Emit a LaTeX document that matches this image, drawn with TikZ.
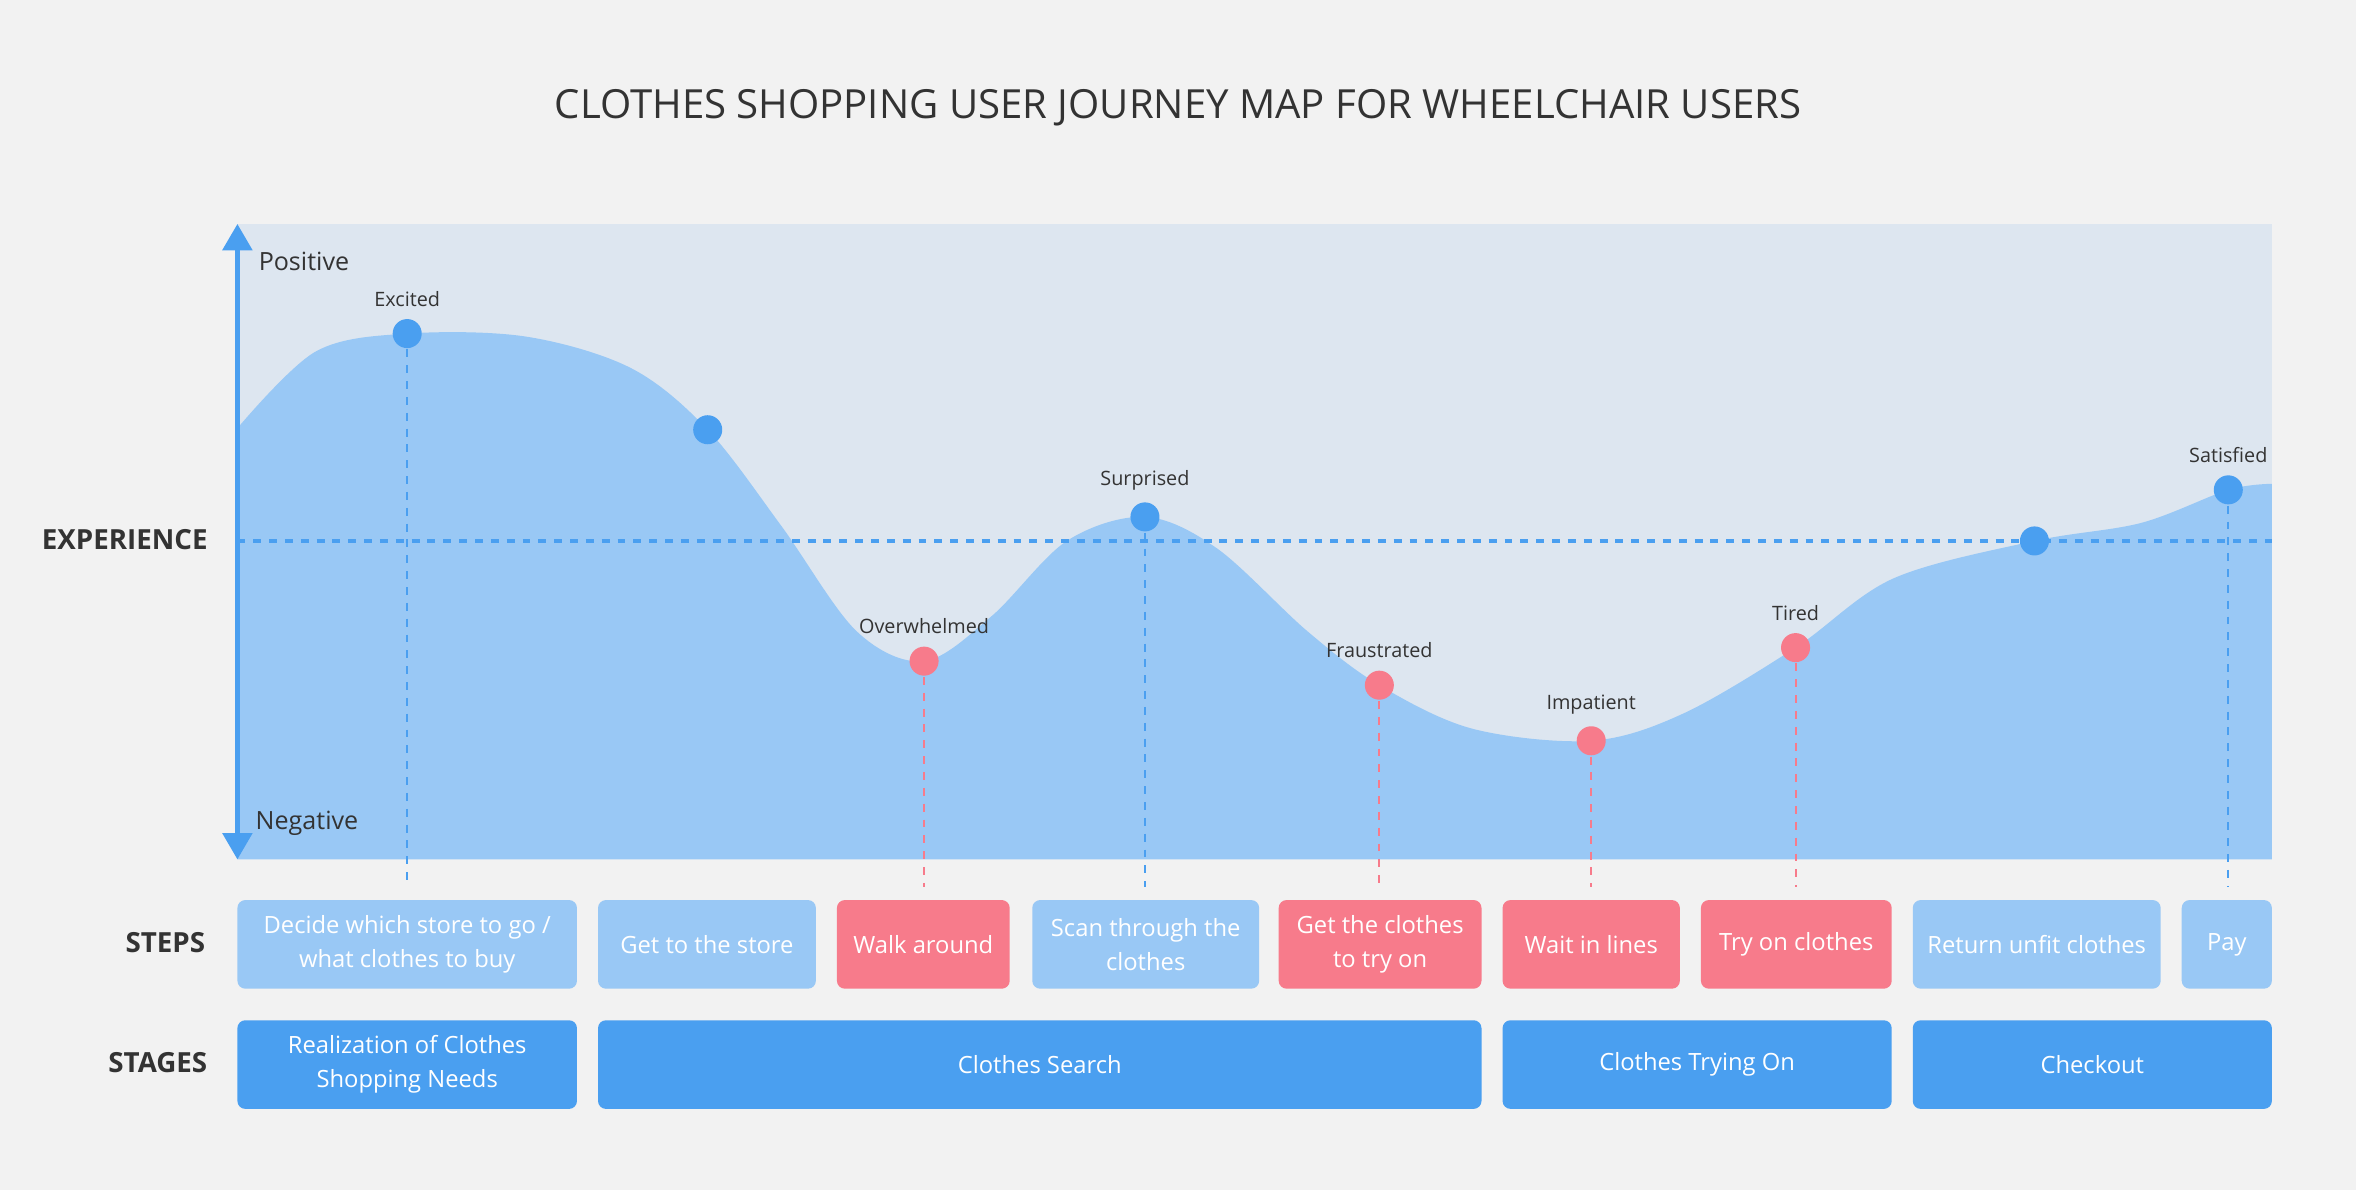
\documentclass[tikz,border=0pt]{standalone}
\usepackage{fontspec}
\setmainfont{Open Sans}
\usetikzlibrary{arrows.meta}
\definecolor{bgpage}{HTML}{F2F2F2}
\definecolor{bgchart}{HTML}{DDE6F0}
\definecolor{curvefill}{HTML}{99C8F5}
\definecolor{bluemain}{HTML}{4A9FF0}
\definecolor{pinkmain}{HTML}{F77B8B}
\definecolor{textdark}{HTML}{333333}
\tikzset{
  lightstep/.style={fill=curvefill,rounded corners=3pt,text=white,align=center,font=\fontsize{9}{13}\selectfont,inner sep=0pt},
  pinkstep/.style={lightstep,fill=pinkmain},
  stagebox/.style={lightstep,fill=bluemain},
  bluedot/.style={circle,fill=bluemain,inner sep=0pt,minimum size=11pt},
  pinkdot/.style={bluedot,fill=pinkmain},
  moodlabel/.style={font=\fontsize{7.5}{9}\selectfont,text=textdark},
  rowlabel/.style={font=\bfseries\fontsize{10.5}{12}\selectfont,text=textdark},
  dropline/.style={dashed,thick}
}
\begin{document}
\begin{tikzpicture}[x=0.02cm,y=-0.02cm]
\fill[bgpage] (0,0) rectangle (1568,792);
\useasboundingbox (0,0) rectangle (1568,792);
\node[font=\fontsize{15.2}{17}\selectfont,text=textdark] (title) at (784,72) {CLOTHES SHOPPING USER JOURNEY MAP FOR WHEELCHAIR USERS};
% chart area
\fill[bgchart] (158,149) rectangle (1512,572);
\fill[curvefill] (158,572) -- plot[smooth,tension=0.55] coordinates{
 (158,285) (210,234) (271,222) (350,224) (420,245) (471,286) (520,350)
 (570,420) (615,440) (660,410) (710,360) (762,344) (810,365) (870,420)
 (918,456) (980,485) (1059,493) (1120,475) (1195,431) (1260,385)
 (1354,360) (1425,348) (1483,326) (1512,322)} -- (1512,572) -- cycle;
\draw[bluemain,dashed,line width=1.2pt] (158,360) -- (1512,360);
\coordinate (axtop) at (158,149);
\coordinate (axbot) at (158,572);
\draw[bluemain,line width=2pt,{Triangle[length=10pt,width=11pt]}-{Triangle[length=10pt,width=11pt]}] (axbot) -- (axtop);
\node[anchor=west,font=\fontsize{9.5}{11}\selectfont,text=textdark] (pos) at (166,174) {Positive};
\node[anchor=west,font=\fontsize{9.5}{11}\selectfont,text=textdark] (neg) at (164,548) {Negative};
% mood points
\foreach \x/\y/\sty/\lbl/\drop in {271/222/bluedot/Excited/1, 471/286/bluedot//0,
  615/440/pinkdot/Overwhelmed/1, 762/344/bluedot/Surprised/1,
  918/456/pinkdot/Fraustrated/1, 1059/493/pinkdot/Impatient/1,
  1195/431/pinkdot/Tired/1, 1354/360/bluedot//0, 1483/326/bluedot/Satisfied/1}{
  \ifnum\drop=1
    \coordinate (foot\x) at (\x,590);
    \draw[dropline,color=\ifnum\y>400 pinkmain\else bluemain\fi] (\x,\y) -- (foot\x);
  \fi
  \node[\sty] (dot\x) at (\x,\y) {};
  \node[moodlabel,above=1pt] (mood\x) at (dot\x.north) {\lbl};
}
% row labels
\node[rowlabel] (explbl) at (83,359) {EXPERIENCE};
\node[rowlabel] (steplbl) at (110,627) {STEPS};
\node[rowlabel] (stagelbl) at (105,707) {STAGES};
% steps
\foreach \a/\b/\sty/\txt [count=\i] in {158/384/lightstep/{Decide which store to go /\\what clothes to buy},
  398/543/lightstep/{Get to the store}, 557/672/pinkstep/{Walk around},
  687/838/lightstep/{Scan through the\\clothes}, 851/986/pinkstep/{Get the clothes\\to try on},
  1000/1118/pinkstep/{Wait in lines}, 1132/1259/pinkstep/{Try on clothes},
  1273/1438/lightstep/{Return unfit clothes}, 1452/1512/lightstep/{Pay}}{
  \node[\sty,minimum width={(\b-\a)*0.02cm},minimum height=1.18cm] (step\i) at ({(\a+\b)/2},628.5) {\txt};
}
% stages
\foreach \a/\b/\txt [count=\i] in {158/384/{Realization of Clothes\\Shopping Needs},
  398/986/{Clothes Search}, 1000/1259/{Clothes Trying On}, 1273/1512/{Checkout}}{
  \node[stagebox,minimum width={(\b-\a)*0.02cm},minimum height=1.18cm] (stage\i) at ({(\a+\b)/2},708.5) {\txt};
}
\end{tikzpicture}
\end{document}
